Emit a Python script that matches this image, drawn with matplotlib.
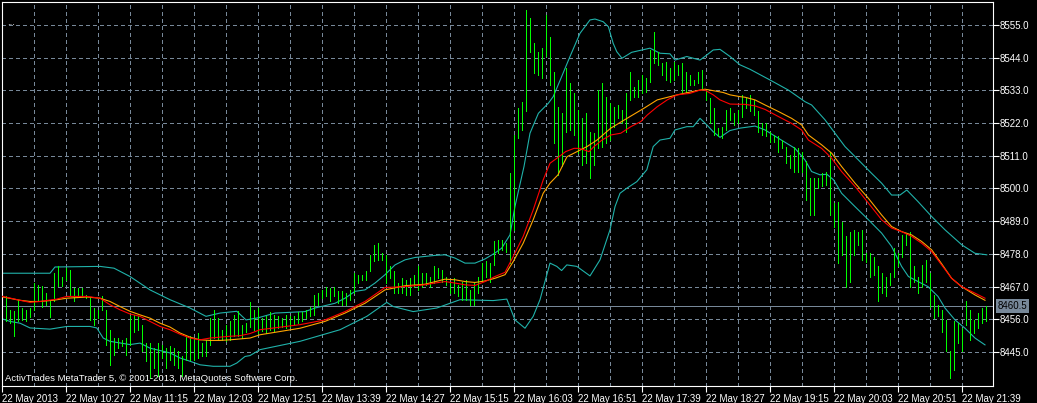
import numpy as np
import matplotlib
matplotlib.use('Agg')
import matplotlib.pyplot as plt
import matplotlib.transforms as mtrans

plt.rcParams['font.family'] = ['Liberation Sans', 'DejaVu Sans']

# M3 bars, index 0 = 09:42
high = [8463.7, 8459.2, 8458.7, 8462.6, 8459.8, 8459.2, 8459.8, 8468.2, 8467.6, 8467.1,
        8464.8, 8462.6, 8471.5, 8473.8, 8470.4, 8473.2, 8472.7, 8466.5, 8466.5, 8466.5,
        8464.3, 8463.1, 8459.8, 8459.2, 8463.7, 8459.2, 8452.5, 8449.7, 8449.7, 8449.1,
        8449.7, 8457.0, 8457.5, 8457.0, 8454.2, 8448.0, 8448.0, 8446.3, 8448.0, 8447.5,
        8446.3, 8446.9, 8446.3, 8445.2, 8443.5, 8450.3, 8450.3, 8449.7, 8451.4, 8448.0,
        8449.1, 8456.4, 8459.2, 8456.4, 8452.5, 8454.2, 8455.3, 8457.5, 8458.7, 8454.2,
        8454.7, 8461.8, 8459.2, 8459.8, 8456.4, 8457.0, 8458.6, 8457.5, 8457.0, 8456.4,
        8457.5, 8457.0, 8457.0, 8458.6, 8458.6, 8459.2, 8460.3, 8464.2, 8464.8, 8465.9,
        8467.0, 8466.5, 8467.0, 8465.6, 8465.4, 8464.8, 8465.9, 8471.5, 8471.0, 8471.0,
        8472.1, 8477.7, 8481.0, 8481.6, 8478.3, 8477.7, 8473.8, 8472.1, 8468.2, 8469.8,
        8469.3, 8469.8, 8471.0, 8473.8, 8471.5, 8471.5, 8470.4, 8473.8, 8473.2, 8472.6,
        8470.4, 8468.7, 8469.8, 8467.6, 8468.7, 8469.3, 8465.9, 8468.2, 8470.4, 8474.9,
        8475.5, 8474.9, 8482.2, 8482.7, 8482.7, 8481.6, 8505.1, 8518.0, 8527.0, 8529.2,
        8560.0, 8557.2, 8548.8, 8546.0, 8547.2, 8558.4, 8551.1, 8539.3, 8527.5, 8525.3,
        8540.4, 8535.4, 8532.0, 8526.4, 8523.6, 8525.3, 8519.1, 8518.6, 8533.1, 8535.4,
        8530.9, 8528.7, 8527.5, 8528.1, 8526.4, 8532.0, 8539.3, 8534.3, 8536.5, 8538.2,
        8537.1, 8546.6, 8552.8, 8546.0, 8542.1, 8542.7, 8540.4, 8542.7, 8541.6, 8542.1,
        8539.3, 8538.2, 8536.5, 8539.3, 8539.9, 8533.1, 8530.3, 8527.0, 8520.3, 8520.8,
        8526.4, 8527.0, 8525.3, 8526.4, 8531.5, 8530.3, 8531.5, 8529.8, 8525.9, 8521.9,
        8521.9, 8519.1, 8518.0, 8517.5, 8516.3, 8514.1, 8511.3, 8514.1, 8513.5, 8512.4,
        8509.1, 8503.4, 8503.4, 8503.4, 8505.1, 8505.7, 8512.4, 8495.0, 8495.6, 8488.9,
        8483.9, 8485.5, 8486.1, 8485.5, 8486.1, 8478.2, 8478.2, 8477.1, 8473.8, 8471.5,
        8470.4, 8471.5, 8479.9, 8478.2, 8484.4, 8485.0, 8485.5, 8473.8, 8470.4, 8474.3,
        8476.0, 8471.5, 8464.2, 8460.9, 8459.2, 8455.8, 8445.2, 8455.3, 8454.7, 8453.0,
        8462.0, 8459.2, 8455.8, 8458.1, 8459.8, 8460.5]
low = [8455.6, 8454.7, 8450.3, 8455.3, 8455.9, 8455.3, 8456.8, 8459.2, 8462.0, 8460.3,
       8460.9, 8456.8, 8462.0, 8467.1, 8467.1, 8469.3, 8464.3, 8462.0, 8463.7, 8463.7,
       8463.1, 8455.9, 8454.2, 8456.4, 8459.2, 8447.5, 8440.7, 8444.1, 8446.3, 8446.9,
       8444.1, 8447.5, 8451.9, 8452.5, 8445.2, 8441.9, 8436.3, 8439.6, 8436.8, 8443.0,
       8439.6, 8442.4, 8440.7, 8439.6, 8436.8, 8442.4, 8442.4, 8442.4, 8443.0, 8443.5,
       8443.5, 8447.5, 8449.7, 8449.1, 8449.1, 8448.6, 8449.1, 8450.3, 8450.3, 8449.7,
       8451.9, 8453.5, 8452.5, 8451.5, 8452.0, 8451.5, 8452.5, 8452.0, 8453.0, 8453.5,
       8453.0, 8453.5, 8454.2, 8454.7, 8455.3, 8456.4, 8457.0, 8457.5, 8460.9, 8463.1,
       8463.7, 8462.0, 8463.7, 8461.4, 8460.9, 8460.9, 8462.6, 8464.8, 8468.2, 8469.3,
       8469.3, 8472.1, 8475.5, 8476.0, 8476.0, 8468.2, 8469.8, 8464.8, 8464.8, 8464.8,
       8464.2, 8464.2, 8467.0, 8466.0, 8467.0, 8467.6, 8467.0, 8468.2, 8469.8, 8468.7,
       8467.6, 8464.8, 8464.8, 8463.7, 8462.6, 8462.6, 8460.9, 8460.9, 8464.8, 8468.7,
       8470.4, 8468.7, 8474.3, 8478.3, 8479.4, 8478.8, 8474.9, 8486.1, 8517.0, 8519.7,
       8525.9, 8546.0, 8538.7, 8538.2, 8537.1, 8544.4, 8534.8, 8515.2, 8504.6, 8507.4,
       8519.1, 8519.7, 8518.0, 8511.9, 8507.9, 8508.5, 8503.5, 8507.9, 8513.5, 8514.1,
       8515.2, 8516.3, 8520.8, 8523.6, 8521.9, 8519.1, 8529.8, 8530.9, 8530.9, 8532.0,
       8532.6, 8535.9, 8542.1, 8541.6, 8538.2, 8536.5, 8535.9, 8536.5, 8538.2, 8532.6,
       8532.6, 8534.8, 8534.8, 8535.4, 8533.1, 8529.8, 8521.9, 8518.0, 8517.5, 8516.9,
       8519.7, 8523.1, 8521.4, 8521.9, 8524.2, 8527.0, 8525.9, 8524.7, 8519.1, 8518.0,
       8517.5, 8515.8, 8515.8, 8512.4, 8513.5, 8508.5, 8506.8, 8505.7, 8505.7, 8505.7,
       8496.2, 8491.1, 8491.1, 8500.1, 8500.7, 8501.2, 8491.1, 8487.2, 8474.9, 8477.7,
       8467.0, 8468.7, 8477.7, 8481.0, 8476.0, 8475.4, 8470.4, 8471.0, 8462.0, 8464.8,
       8463.7, 8467.6, 8470.4, 8473.8, 8477.1, 8481.0, 8467.0, 8468.7, 8464.8, 8467.0,
       8468.7, 8460.3, 8456.4, 8457.0, 8451.9, 8445.2, 8436.2, 8439.0, 8448.0, 8445.2,
       8454.2, 8449.1, 8451.4, 8453.0, 8454.7, 8455.3]

# Bollinger bands (x = bar index)
upper_x = [-1.5, 6, 11, 12.25, 23.5, 27, 31, 36, 41, 46, 50, 53.5, 57.7, 60, 63, 67.25,
           74.75, 77.25, 82.25, 84.75, 87.25, 89.75, 92.25, 94.75, 97.25, 99.75, 102.25,
           107.25, 109.75, 112.25, 114.75, 117.25, 119.75, 122.25, 123.9, 126, 127.25,
           129.5, 131, 133.1, 135.6, 136.8, 138.9, 141, 143.5, 146, 147.25, 149.3, 150.6,
           151.8, 152.7, 154, 156.4, 161, 163.5, 166, 167.25, 170.2, 173.5, 175.2, 176.8,
           178.5, 181, 183.5, 186, 191, 195.6, 199.75, 201.4, 204.75, 207.25, 209.75,
           213.1, 216.4, 218.9, 221.4, 223.5, 225.2, 228, 231.4, 234.75, 239, 242.25, 245.2]
upper_y = [8471.5, 8471.5, 8471.5, 8473.6, 8473.8, 8473.2, 8470.4, 8465.9, 8462.6, 8459.8,
           8457.0, 8458.1, 8458.7, 8455.8, 8456.5, 8458.1, 8458.6, 8459.8, 8461.4, 8463.1,
           8465.4, 8465.9, 8468.2, 8471.0, 8474.3, 8476.0, 8476.8, 8477.5, 8477.7, 8476.6,
           8474.9, 8474.9, 8476.3, 8478.3, 8479.9, 8484.4, 8494.0, 8507.4, 8518.6, 8525.3,
           8528.7, 8530.9, 8537.6, 8544.4, 8552.2, 8556.7, 8557.0, 8556.1, 8554.4, 8548.8,
           8546.0, 8543.8, 8545.8, 8547.2, 8545.5, 8545.3, 8543.2, 8544.4, 8543.2, 8544.9,
           8546.6, 8546.8, 8544.4, 8541.6, 8540.1, 8536.5, 8533.1, 8529.2, 8528.1, 8523.1,
           8518.6, 8514.1, 8509.6, 8505.1, 8501.8, 8497.8, 8497.8, 8499.5, 8495.6, 8490.6,
           8486.1, 8481.0, 8478.2, 8477.7]
lower_x = [-1.5, 1, 3.5, 6, 11, 15.2, 21, 22.7, 24.3, 26, 31, 33.5, 36, 41, 43.5, 46, 48.5,
           51.8, 56, 57.7, 59.75, 61, 63.5, 73.5, 83.5, 90.2, 95.2, 96.8, 101.8, 107.7,
           113.5, 121.8, 125.2, 127.25, 129.75, 131.8, 133.5, 136, 137.7, 138.9, 140.2,
           142.7, 146, 148.5, 151, 152.25, 153.5, 155.2, 157.7, 160.2, 161.8, 163.5, 166,
           167.25, 170.2, 171.8, 173.5, 175.2, 176.8, 178.5, 181, 183.5, 187.25, 189.75,
           193.1, 197.25, 199.75, 201.4, 203.5, 205.2, 206.9, 208.9, 212.25, 215.6, 218.9,
           221.4, 223.9, 225.6, 228, 230.5, 233, 234.75, 237.25, 239.75, 242.25, 244.75]
lower_y = [8456.4, 8455.3, 8454.7, 8453.1, 8452.7, 8453.6, 8453.6, 8453.1, 8449.7, 8448.6,
           8447.5, 8448.0, 8446.3, 8444.7, 8443.0, 8441.9, 8440.7, 8440.2, 8440.2, 8441.3,
           8443.5, 8443.8, 8445.8, 8448.6, 8452.5, 8457.0, 8461.7, 8460.3, 8458.6, 8459.8,
           8462.6, 8462.3, 8462.8, 8455.8, 8453.0, 8457.0, 8462.6, 8474.9, 8473.8, 8472.4,
           8474.3, 8473.8, 8470.6, 8476.0, 8486.1, 8493.9, 8498.4, 8500.1, 8502.3, 8506.3,
           8514.1, 8516.3, 8516.9, 8519.7, 8520.8, 8520.8, 8523.6, 8521.4, 8519.1, 8517.2,
           8519.5, 8520.3, 8521.0, 8519.7, 8516.9, 8513.5, 8509.6, 8505.7, 8504.6, 8504.8,
           8502.9, 8498.4, 8493.9, 8489.5, 8485.0, 8480.5, 8473.8, 8470.4, 8468.7, 8467.0,
           8463.7, 8459.8, 8455.8, 8453.0, 8449.7, 8447.4]

# moving averages
red_x = [-1.5, 3.5, 6, 8.5, 12.7, 15.2, 20.2, 23.5, 26, 28.5, 31, 33.5, 36, 38.5, 41, 43.5,
         46, 48.5, 51, 53.5, 56, 58.5, 61, 63.5, 73.5, 79.75, 84.75, 89.75, 94.75, 99.75,
         104.75, 107.25, 109.75, 112.25, 114.75, 117.25, 119.75, 122.25, 124.75, 126.8,
         129.3, 131.8, 134.3, 136, 138.25, 139.9, 142, 143.25, 144.5, 145.75, 147, 149,
         151.2, 153.7, 156.2, 158.7, 160.3, 162.8, 165.3, 167.8, 171, 173.5, 174.75, 176.8,
         178.5, 181, 184.75, 187.25, 189.75, 193.1, 196.4, 198.9, 200.6, 203.9, 206.4,
         208.9, 212.25, 215.6, 218.9, 221.4, 223.9, 226.4, 228.9, 231.4, 233.9, 236.4,
         238.9, 242.25, 244.75]
red_y = [8463.9, 8462.4, 8461.7, 8462.0, 8462.8, 8463.7, 8463.7, 8463.1, 8460.9, 8459.2,
         8457.8, 8457.0, 8455.3, 8453.6, 8452.5, 8451.0, 8449.7, 8449.1, 8449.7, 8450.0,
         8450.3, 8450.5, 8451.2, 8452.5, 8454.2, 8455.8, 8458.6, 8462.0, 8466.7, 8467.0,
         8467.6, 8468.2, 8468.7, 8468.2, 8467.6, 8467.4, 8468.7, 8470.4, 8471.8, 8477.1,
         8483.9, 8492.8, 8502.9, 8508.5, 8510.7, 8512.4, 8513.5, 8513.5, 8513.0, 8512.4,
         8514.1, 8516.3, 8518.0, 8518.6, 8520.8, 8522.5, 8524.7, 8527.5, 8529.8, 8531.5,
         8532.0, 8533.1, 8533.1, 8531.5, 8529.8, 8528.4, 8528.3, 8527.8, 8526.6, 8524.2,
         8521.9, 8519.7, 8516.3, 8513.5, 8510.2, 8505.7, 8500.7, 8495.1, 8489.5, 8486.7,
         8485.5, 8483.9, 8481.6, 8478.8, 8474.3, 8469.8, 8467.0, 8464.8, 8463.1]
orange_x = [-1.5, 3.5, 6, 8.5, 11.8, 15.2, 20.2, 23.5, 26, 28.5, 31, 33.5, 36, 38.5, 41,
            43.5, 46, 48.5, 51, 53.5, 56, 58.5, 61, 63.5, 73.5, 79.75, 84.75, 89.75, 94.75,
            99.75, 104.75, 109.75, 112.25, 114.75, 117.25, 119.75, 122.25, 124.75, 126.8,
            129.3, 131.8, 134.3, 136, 138, 140.25, 142.75, 145.25, 147.75, 151.2, 155.25,
            159.5, 162.8, 167.8, 170.2, 172.7, 174.75, 179.3, 181, 183.5, 184.75, 187.25,
            189.75, 193.1, 196.4, 198.9, 200.6, 203.9, 206.4, 208.9, 212.25, 215.6, 218.9,
            221.4, 223.9, 226.4, 228.9, 231.4, 233.9, 236.4, 238.9, 242.25, 244.75]
orange_y = [8463.7, 8462.4, 8462.0, 8462.0, 8462.4, 8463.1, 8463.5, 8463.1, 8462.0, 8460.3,
            8458.7, 8457.5, 8456.4, 8454.7, 8453.4, 8451.4, 8450.0, 8449.1, 8448.9, 8448.9,
            8449.1, 8449.4, 8449.7, 8450.8, 8453.0, 8455.3, 8458.1, 8461.4, 8465.9, 8467.3,
            8467.8, 8469.5, 8469.3, 8468.7, 8468.4, 8468.9, 8469.8, 8471.0, 8475.4, 8481.6,
            8489.5, 8498.4, 8501.8, 8504.6, 8510.7, 8512.4, 8514.1, 8516.3, 8520.3, 8523.6,
            8527.0, 8529.8, 8531.5, 8532.2, 8532.9, 8533.4, 8532.3, 8531.5, 8530.9, 8530.7,
            8529.8, 8528.1, 8525.9, 8523.6, 8521.4, 8518.0, 8514.7, 8511.9, 8507.4, 8501.8,
            8496.7, 8491.1, 8487.2, 8485.5, 8484.4, 8482.2, 8479.4, 8474.7, 8469.8, 8467.0,
            8464.2, 8462.4]

price_ticks = [8445, 8456, 8467, 8478, 8489, 8500, 8511, 8522, 8533, 8544, 8555]
time_pos = [-1, 15, 31, 47, 63, 79, 95, 111, 127, 143, 159, 175, 191, 207, 223, 239]
time_lab = ['22 May 2013', '22 May 10:27', '22 May 11:15', '22 May 12:03', '22 May 12:51',
            '22 May 13:39', '22 May 14:27', '22 May 15:15', '22 May 16:03', '22 May 16:51',
            '22 May 17:39', '22 May 18:27', '22 May 19:15', '22 May 20:03', '22 May 20:51',
            '22 May 21:39']
bid = 8460.5

W, H = 1037, 403
fig = plt.figure(figsize=(W / 100, H / 100), dpi=100, facecolor='black')
ax = fig.add_axes([2 / W, 17 / H, 991 / W, 384 / H], facecolor='black')
ax.set_xlim(-1, 246.75)
ax.set_ylim(8433.57, 8562.73)

grid_kw = dict(color='#778899', lw=0.72, ls=(0, (4, 3)), zorder=1, antialiased=False)
for p in price_ticks:
    ax.axhline(p, **grid_kw)
for g in range(7, 247, 8):
    ax.axvline(g, **grid_kw)
ax.axhline(bid, color='#778899', lw=0.72, zorder=1.5, antialiased=False)

idx = np.arange(len(high))
ax.vlines(idx, low, high, colors='#00ff00', lw=0.5, zorder=3, antialiased=False)

ax.plot(upper_x, upper_y, color='#20b2aa', lw=0.8, zorder=2)
ax.plot(lower_x, lower_y, color='#20b2aa', lw=0.8, zorder=2)
ax.plot(orange_x, orange_y, color='#ffa500', lw=0.8, zorder=4)
ax.plot(red_x, red_y, color='#ff0000', lw=0.8, zorder=4)

for s in ax.spines.values():
    s.set_color('white')
    s.set_linewidth(0.8)

ax.yaxis.tick_right()
ax.set_yticks(price_ticks)
ax.set_yticklabels(['%.1f' % p for p in price_ticks])
ax.set_xticks(time_pos)
ax.set_xticklabels(time_lab, ha='left')
ax.tick_params(colors='white', labelcolor='white', labelsize=7, length=4, width=0.8, pad=1)
ax.tick_params(axis='x', pad=2)

trans = mtrans.blended_transform_factory(ax.transAxes, ax.transData)
ax.text(1.0045, bid, '%.1f' % bid, transform=trans, color='black', fontsize=7,
        va='center', ha='left', clip_on=False,
        bbox=dict(facecolor='#778899', edgecolor='none', pad=1.2))

fig.text(5 / W, 1 - 381 / H, 'ActivTrades MetaTrader 5, © 2001-2013, MetaQuotes Software Corp.',
         color='white', fontsize=6.8, va='baseline', ha='left')
fig.text(7 / W, 1 - 25 / H, '...', color='white', fontsize=7, va='baseline', ha='left')

fig.savefig('out.png', dpi=100, facecolor='black')
